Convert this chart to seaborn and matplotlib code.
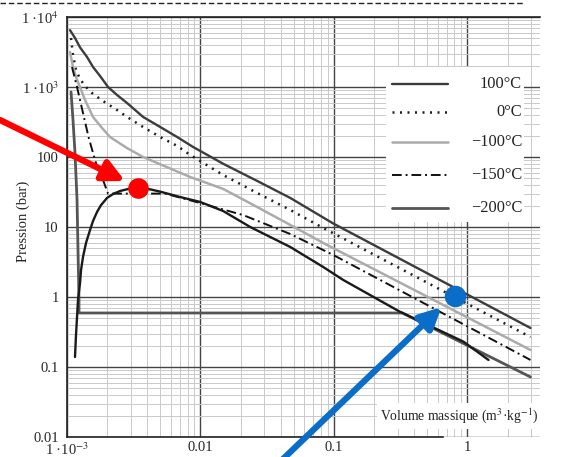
import matplotlib
matplotlib.use("Agg")
import matplotlib.pyplot as plt
import seaborn as sns
from matplotlib.lines import Line2D
from matplotlib.patches import Rectangle
from matplotlib.ticker import LogLocator, FixedLocator, FixedFormatter, NullFormatter

# ---------------- data (specific volume m3/kg, pressure bar) ----------------
v_100 = [1.053e-3, 1.148e-3, 1.25e-3, 1.413e-3, 1.567e-3, 1.769e-3, 2.03e-3, 2.371e-3, 2.82e-3,
         3.72e-3, 5.0e-3, 6.69e-3, 8.81e-3, 0.0148, 0.0266, 0.0471, 0.099, 2.97]
p_100 = [6500, 5012, 3700, 2683, 1930, 1436, 1000, 769, 590,
         373, 268, 193, 139, 80, 45.5, 26.0, 11.2, 0.361]

v_0 = [1.072e-3, 1.109e-3, 1.168e-3, 1.252e-3, 1.365e-3, 1.567e-3, 1.862e-3, 2.371e-3, 2.82e-3,
       3.72e-3, 4.99e-3, 6.69e-3, 8.37e-3, 0.0148, 0.0266, 0.0471, 0.0832, 2.97]
p_0 = [5000, 2866, 1750, 1301, 1033, 794, 631, 469, 373,
       268, 193, 144, 107, 55.3, 30.6, 17.5, 9.68, 0.268]

v_m100 = [1.053e-3, 1.109e-3, 1.189e-3, 1.252e-3, 1.365e-3, 1.567e-3, 1.830e-3, 2.10e-3, 2.82e-3,
          3.72e-3, 8.37e-3, 0.0148, 0.0266, 0.0471, 0.0832, 2.97]
p_m100 = [3162, 1931, 1259, 1000, 652, 373, 260, 193, 134,
          100, 51.8, 35.0, 19.3, 10.7, 5.91, 0.175]

v_m150 = [1.090e-3, 1.189e-3, 1.318e-3, 1.45e-3, 1.567e-3, 1.70e-3, 1.862e-3, 2.03e-3, 5.44e-3,
          9.95e-3, 0.0209, 0.0471, 0.099, 2.97]
p_m150 = [1931, 1000, 425, 193, 114, 67, 46.9, 30.0, 30.0,
          22.0, 14.8, 7.94, 3.98, 0.126]

v_m200 = [1.072e-3, 1.109e-3, 1.148e-3, 1.189e-3, 1.209e-3, 1.230e-3, 1.230e-3, 0.326, 2.97]
p_m200 = [849, 338, 114, 24.3, 4.69, 0.906, 0.591, 0.591, 0.072]

v_sat = [1.148e-3, 1.168e-3, 1.189e-3, 1.209e-3, 1.252e-3, 1.274e-3, 1.318e-3, 1.388e-3, 1.488e-3,
         1.567e-3, 1.679e-3, 1.800e-3, 1.995e-3, 2.213e-3, 2.50e-3, 2.87e-3, 3.41e-3,
         4.195e-3, 4.99e-3, 7.04e-3, 9.95e-3, 0.0148, 0.0236, 0.0471, 0.0832, 0.1175, 0.31, 0.935, 1.44]
p_sat = [0.139, 0.286, 0.518, 0.906, 1.585, 2.43, 3.73, 5.91, 9.06,
         12.2, 16.4, 20.6, 26.0, 29.6, 32.7, 34.9, 36.1,
         34.5, 32.0, 26.8, 22.8, 16.9, 10.0, 5.18, 2.68, 1.75, 0.62, 0.23, 0.126]

crit_v, crit_p = [3.41e-3], [36.0]
blue_v, blue_p = [0.814], [1.03]

legend_labels = ["100°C", "0°C", "\u2212100°C", "\u2212150°C", "\u2212200°C"]
y_ticks = [0.01, 0.1, 1, 10, 100, 1000, 10000]
y_ticklabels = ["0.01", "0.1", "1", "10", "100", "1 ·10$^{3}$", "1 ·10$^{4}$"]
x_ticks = [1e-3, 0.01, 0.1, 1]
x_ticklabels = ["1 ·10$^{-3}$", "0.01", "0.1", "1"]

# ---------------- style ----------------
sns.set_theme(style="white")
plt.rcParams['font.family'] = ['Liberation Serif', 'DejaVu Serif']
plt.rcParams['mathtext.fontset'] = 'stix'

fig = plt.figure(figsize=(5.62, 4.57), dpi=100)
ax = fig.add_axes([67/562, 1-437/457, (540-67)/562, (437-17)/457])
ax.set_xscale('log')
ax.set_yscale('log')

styles = [
    (v_100, p_100, dict(color='#3c3c3c', lw=1.7, linestyle='-')),
    (v_0, p_0, dict(color='#1e1e1e', lw=1.8, linestyle=(0, (0.8, 2.2)))),
    (v_m100, p_m100, dict(color='#ababab', lw=1.8, linestyle='-')),
    (v_m150, p_m150, dict(color='#111111', lw=1.4, linestyle=(0, (5, 2, 1, 2)))),
    (v_m200, p_m200, dict(color='#555555', lw=2.0, linestyle='-')),
]
for v, p, kw in styles:
    sns.lineplot(x=v, y=p, ax=ax, sort=False, estimator=None, legend=False, **kw)
sns.lineplot(x=v_sat, y=p_sat, ax=ax, sort=False, estimator=None, legend=False,
             color='#1a1a1a', lw=1.7)

ax.set_xlim(1e-3, 3.5)
ax.set_ylim(0.01, 1e4)

ax.xaxis.set_major_locator(FixedLocator(x_ticks))
ax.xaxis.set_major_formatter(FixedFormatter(x_ticklabels))
ax.yaxis.set_major_locator(FixedLocator(y_ticks))
ax.yaxis.set_major_formatter(FixedFormatter(y_ticklabels))
ax.xaxis.set_minor_locator(LogLocator(base=10, subs=range(2, 10), numticks=30))
ax.yaxis.set_minor_locator(LogLocator(base=10, subs=range(2, 10), numticks=30))
ax.xaxis.set_minor_formatter(NullFormatter())
ax.yaxis.set_minor_formatter(NullFormatter())
ax.tick_params(which='both', length=0)
ax.tick_params(axis='x', pad=3, labelsize=10.5)
ax.tick_params(axis='y', pad=6, labelsize=10.5)

ax.set_axisbelow(True)
ax.grid(which='major', color='#444444', lw=1.0)
ax.grid(which='minor', color='#c9c9c9', lw=0.7)

for s in ['left', 'top', 'bottom']:
    ax.spines[s].set_color('#222222')
    ax.spines[s].set_linewidth(1.2)
ax.spines['right'].set_visible(False)
ax.spines['bottom'].set_bounds(1e-3, 0.66)

ax.set_ylabel("Pression (bar)", fontsize=10.5, color='#222')
ax.yaxis.set_label_coords(-0.078, 0.514)
ax.set_xlabel("")
ax.text(0.997, 0.05, "Volume massique (m$^{3}$·kg$^{-1}$)", transform=ax.transAxes,
        ha='right', va='center', fontsize=9.8, color='#222', zorder=6,
        bbox=dict(facecolor='white', edgecolor='none', pad=2.5))

# legend (manual, right-aligned labels)
ax.add_patch(Rectangle((0.674, 0.512), 0.292, 0.369, transform=ax.transAxes,
                       facecolor='white', edgecolor='none', zorder=5))
rows = [0.8405, 0.7738, 0.7024, 0.6238, 0.5452]
for (v, p, kw), lab, yy in zip(styles, legend_labels, rows):
    ax.add_line(Line2D([0.687, 0.806], [yy, yy], transform=ax.transAxes, zorder=6, **kw))
    ax.text(0.962, yy, lab, transform=ax.transAxes, ha='right', va='center',
            fontsize=11.8, color='#222', zorder=6)

# annotation markers
ax.scatter(crit_v, crit_p, s=220, color='#ff0000', zorder=10, clip_on=False, linewidths=0)
ax.scatter(blue_v, blue_p, s=240, color='#0a6ec8', zorder=10, clip_on=False, linewidths=0)
ax.annotate("", xy=(2.72e-3, 45.4), xycoords='data', xytext=(0, 457-120), textcoords='figure pixels',
            arrowprops=dict(arrowstyle='-|>', color='#ff0000', lw=4.5, mutation_scale=32,
                            shrinkA=0, shrinkB=0), annotation_clip=False, zorder=11)
ax.annotate("", xy=(0.64, 0.72), xycoords='data', xytext=(283, -2), textcoords='figure pixels',
            arrowprops=dict(arrowstyle='-|>', color='#0a6ec8', lw=4.5, mutation_scale=32,
                            shrinkA=0, shrinkB=0), annotation_clip=False, zorder=11)

# dashed page rule at top
fig.add_artist(Line2D([0, 523/562], [1-3/457, 1-3/457], transform=fig.transFigure,
                      color='#222', lw=1.0, linestyle=(0, (4, 2))))

fig.savefig("out.png", dpi=100)
